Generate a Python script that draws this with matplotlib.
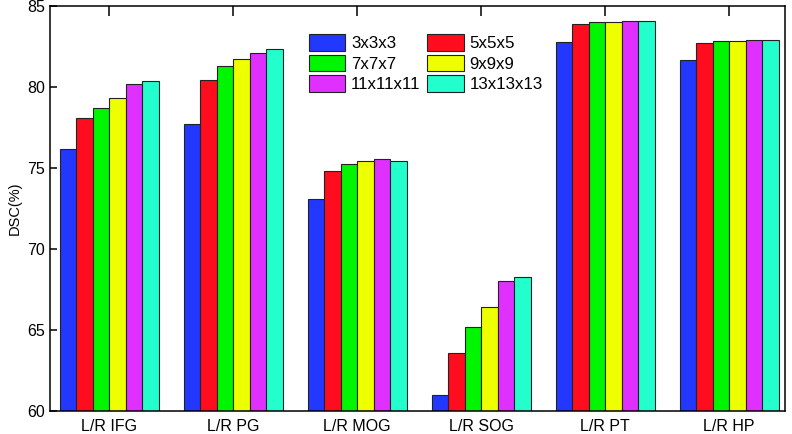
import numpy as np
import matplotlib.pyplot as plt

plt.rcParams['font.family'] = ['Liberation Sans', 'DejaVu Sans']

regions = ['L/R IFG', 'L/R PG', 'L/R MOG', 'L/R SOG', 'L/R PT', 'L/R HP']
kernels = ['3x3x3', '5x5x5', '7x7x7', '9x9x9', '11x11x11', '13x13x13']

dsc_3 = [76.2, 77.74, 73.1, 61.0, 82.78, 81.7]
dsc_5 = [78.1, 80.43, 74.8, 63.6, 83.9, 82.74]
dsc_7 = [78.7, 81.3, 75.23, 65.2, 84.0, 82.85]
dsc_9 = [79.35, 81.75, 75.45, 66.44, 84.0, 82.86]
dsc_11 = [80.17, 82.1, 75.55, 68.02, 84.07, 82.9]
dsc_13 = [80.35, 82.33, 75.45, 68.25, 84.1, 82.88]

colors = ['#2338FF', '#FF0D1F', '#00F500', '#EEFF00', '#E030FF', '#22FFCC']

series = [dsc_3, dsc_5, dsc_7, dsc_9, dsc_11, dsc_13]

fig = plt.figure(figsize=(7.92, 4.34), dpi=100)
ax = fig.add_axes([0.063, 0.053, 0.928, 0.933])

x = np.arange(len(regions))
w = 0.8 / len(series)
for i, (vals, lab, c) in enumerate(zip(series, kernels, colors)):
    ax.bar(x - 0.4 + w * (i + 0.5), vals, w, color=c, edgecolor='#222222',
           linewidth=0.8, label=lab)

ax.set_ylim(60, 85)
ax.set_xlim(-0.48, 5.45)
ax.set_xticks(x)
ax.set_xticklabels(regions, fontsize=11.5)
ax.set_yticks([60, 65, 70, 75, 80, 85])
ax.tick_params(axis='y', labelsize=11.5, direction='in', length=5, width=1.1)
ax.tick_params(axis='x', direction='in', length=7, width=1.1, top=True, bottom=False, pad=6)
ax.set_ylabel('DSC(%)', fontsize=10.5, labelpad=4)
for s in ax.spines.values():
    s.set_linewidth(1.1)

# legend filled row by row (matplotlib fills columns first)
handles, labels = ax.get_legend_handles_labels()
order = [0, 2, 4, 1, 3, 5]
ax.legend([handles[k] for k in order], [labels[k] for k in order],
          ncol=2, loc='upper left', bbox_to_anchor=(0.336, 0.96), frameon=False,
          fontsize=12.2, handlelength=2.15, handleheight=1.15, columnspacing=0.4,
          handletextpad=0.35, labelspacing=0.2, borderpad=0.2)

fig.savefig('out.png', dpi=100)
